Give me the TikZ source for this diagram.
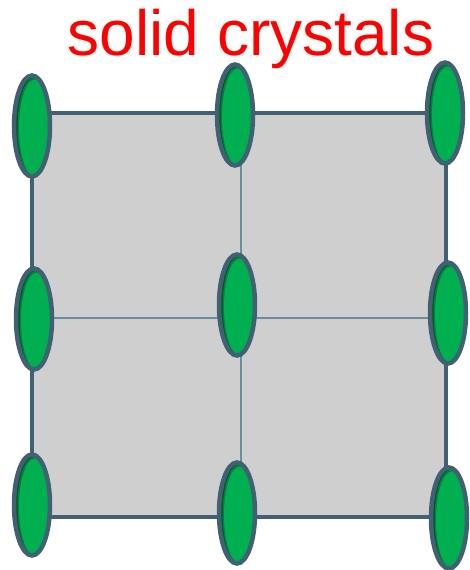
\documentclass[tikz,border=0pt]{standalone}
\usepackage{fontspec}
\setsansfont{Liberation Sans}
\usepackage{xcolor}
\usepackage{tikz}
\usetikzlibrary{shapes.geometric,positioning}

\definecolor{edgeslate}{RGB}{66,96,116}
\definecolor{gridslate}{RGB}{104,142,160}
\definecolor{cellgray}{RGB}{207,207,207}
\definecolor{atomgreen}{RGB}{0,176,80}
\definecolor{atommid}{RGB}{0,130,60}
\definecolor{atomdark}{RGB}{0,84,38}

\begin{document}
\begin{tikzpicture}[
    x=1pt, y=-1pt,
    cell/.style={rectangle, draw=edgeslate, line width=4pt, fill=cellgray, minimum width=414pt, minimum height=404pt, inner sep=0pt},
    gridline/.style={draw=gridslate, line width=1.4pt},
    atom/.style={ellipse, draw=edgeslate, line width=4.5pt, minimum width=36pt, minimum height=101pt, inner sep=0pt,
        path picture={
            \fill[atomdark] (path picture bounding box.south west) rectangle (path picture bounding box.north east);
            \fill[atommid] ([xshift=1.5pt,yshift=-1pt]path picture bounding box.center) ellipse [x radius=16pt, y radius=49pt];
            \fill[atomgreen] ([xshift=3pt,yshift=-2pt]path picture bounding box.center) ellipse [x radius=16pt, y radius=48.5pt];
        }},
    title/.style={text=red, font=\sffamily\fontsize{64}{64}\selectfont, inner sep=0pt}
]
\useasboundingbox (0,0) rectangle (470,570);

\node[title, anchor=base] (title) at (251,55) {solid crystals};

\node[cell] (lattice) at (239,315) {};
\draw[gridline] ([xshift=2pt,yshift=-2pt]lattice.north) -- ([xshift=2pt,yshift=2pt]lattice.south);
\draw[gridline] ([xshift=2pt,yshift=-3pt]lattice.west) -- ([xshift=-2pt,yshift=-3pt]lattice.east);

% top row
\node[atom] (a11) at (32,126) {};
\node[atom] (a12) at (235,115) {};
\node[atom] (a13) at (445,113) {};
% middle row
\node[atom] (a21) at (34,319) {};
\node[atom] (a22) at (237,305) {};
\node[atom] (a23) at (448,313) {};
% bottom row
\node[atom] (a31) at (32,505) {};
\node[atom] (a32) at (237,513) {};
\node[atom] (a33) at (449,518) {};
\end{tikzpicture}
\end{document}
